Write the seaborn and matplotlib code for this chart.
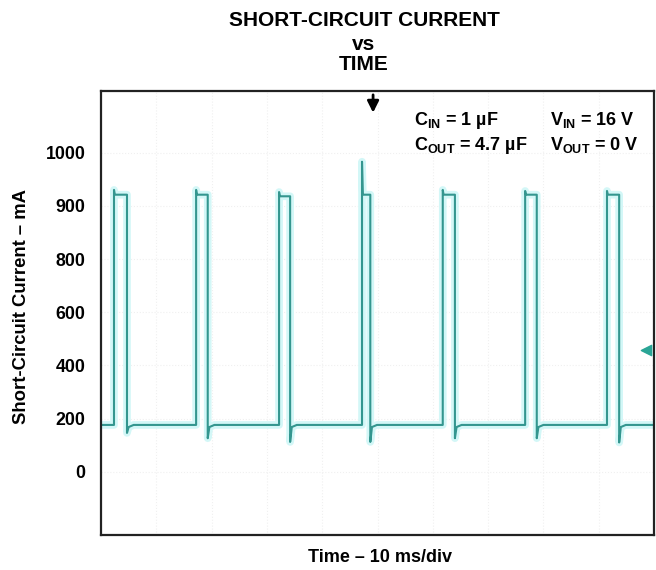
import numpy as np
import pandas as pd
import matplotlib
matplotlib.use('Agg')
import matplotlib.pyplot as plt
import seaborn as sns

# scope trace: time in ms, current in mA
rise_ms = [2.35, 17.2, 32.2, 47.2, 61.8, 76.7, 91.5]
fall_ms = [4.7, 19.3, 34.2, 48.7, 64.0, 78.8, 93.7]
peak_ma = [930, 930, 926, 983, 930, 928, 928]
top_ma = [921, 921, 918, 921, 921, 921, 921]
dip_ma = [146, 126, 112, 112, 126, 126, 110]
base_ma = 176
settle_ma = 168
end_ms = 100

# the scope screen has evenly spaced labels that are not evenly spaced values
y_tick_ma = [0, 200, 400, 600, 800, 900, 1000]
y_tick_labels = ['0', '200', '400', '600', '800', '900', '1000']

# markers on the scope screen
trigger_ms = 49.2
ground_ms = 98.6
ground_ma = 458


def set_rcParams():
    sns.set_style('white')
    plt.rcParams['font.family'] = ['Liberation Sans', 'DejaVu Sans']
    plt.rcParams['font.weight'] = 'bold'
    plt.rcParams['text.color'] = 'black'
    plt.rcParams['ytick.color'] = 'black'
    plt.rcParams['mathtext.fontset'] = 'custom'
    plt.rcParams['mathtext.rm'] = 'Liberation Sans:bold'
    plt.rcParams['mathtext.bf'] = 'Liberation Sans:bold'


def build_trace():
    t = [0.0]
    i = [base_ma]
    for r, f, pk, top, dip in zip(rise_ms, fall_ms, peak_ma, top_ma, dip_ma):
        t += [r, r, r + 0.15, f, f, f + 0.3, f + 1.2]
        i += [base_ma, pk, top, top, dip, settle_ma, base_ma]
    t.append(end_ms)
    i.append(base_ma)
    return pd.DataFrame({'time': t, 'current': i})


def make_scale():
    ma_ref = [-2000] + y_tick_ma + [2000]
    pos_ref = [-10] + list(range(len(y_tick_ma))) + [16]
    fwd = lambda v: np.interp(v, ma_ref, pos_ref)
    inv = lambda p: np.interp(p, pos_ref, ma_ref)
    return fwd, inv


def plot_data(df, png_path):
    fig = plt.figure(figsize=(6.56, 5.70), dpi=100)
    ax = fig.add_axes([101 / 656, 1 - 535 / 570, 553 / 656, 444 / 570])
    ax.set_yscale('function', functions=make_scale())

    sns.lineplot(data=df, x='time', y='current', sort=False, estimator=None,
                 color='#d3f7f7', lw=5.5, ax=ax)
    sns.lineplot(data=df, x='time', y='current', sort=False, estimator=None,
                 color='#34968f', lw=1.5, ax=ax)

    ax.set_xlim(0, 100)
    ax.set_ylim(-238, 1116)
    ax.set_xticks(np.arange(10, 100, 10))
    ax.set_xticklabels([])
    ax.set_yticks(y_tick_ma)
    ax.set_yticklabels(y_tick_labels)
    ax.tick_params(axis='both', length=0)
    ax.tick_params(axis='y', labelsize=12.8, pad=11)
    ax.grid(True, color='#f0f0f0', ls=':', lw=0.8)
    ax.set_xlabel('')
    ax.set_ylabel('')
    for s in ax.spines.values():
        s.set_color('#222222')
        s.set_linewidth(1.6)

    ax.annotate('', xy=(trigger_ms, 1070), xytext=(trigger_ms, 1114),
                arrowprops=dict(arrowstyle='-|>', color='black', lw=2,
                                mutation_scale=17))
    ax.scatter([ground_ms], [ground_ma], marker='<', s=55, color='#2aa596',
               zorder=5)

    kw = dict(transform=ax.transAxes, fontsize=13, fontweight='bold',
              va='baseline', ha='left')
    ax.text(0.566, 0.923, r'$\mathbf{C_{IN}}$ = 1 µF', **kw)
    ax.text(0.812, 0.923, r'$\mathbf{V_{IN}}$ = 16 V', **kw)
    ax.text(0.566, 0.867, r'$\mathbf{C_{OUT}}$ = 4.7 µF', **kw)
    ax.text(0.812, 0.867, r'$\mathbf{V_{OUT}}$ = 0 V', **kw)

    tx = 364 / 656
    fig.text(tx, 1 - 20 / 570, 'SHORT-CIRCUIT CURRENT', ha='center', va='center',
             fontsize=15, fontweight='bold')
    fig.text(tx, 1 - 50 / 570, 'vs', ha='center', va='baseline',
             fontsize=15, fontweight='bold')
    fig.text(tx, 1 - 64 / 570, 'TIME', ha='center', va='center',
             fontsize=15, fontweight='bold')
    fig.text(22 / 656, 1 - 307 / 570, 'Short-Circuit Current – mA', rotation=90,
             ha='center', va='center', fontsize=13.3, fontweight='bold')
    fig.text(380 / 656, 1 - 558 / 570, 'Time – 10 ms/div', ha='center',
             va='center', fontsize=13, fontweight='bold')

    fig.savefig(png_path, facecolor='white')
    plt.close(fig)


def main():
    set_rcParams()
    df = build_trace()
    plot_data(df, 'out.png')


if __name__ == '__main__':
    main()
